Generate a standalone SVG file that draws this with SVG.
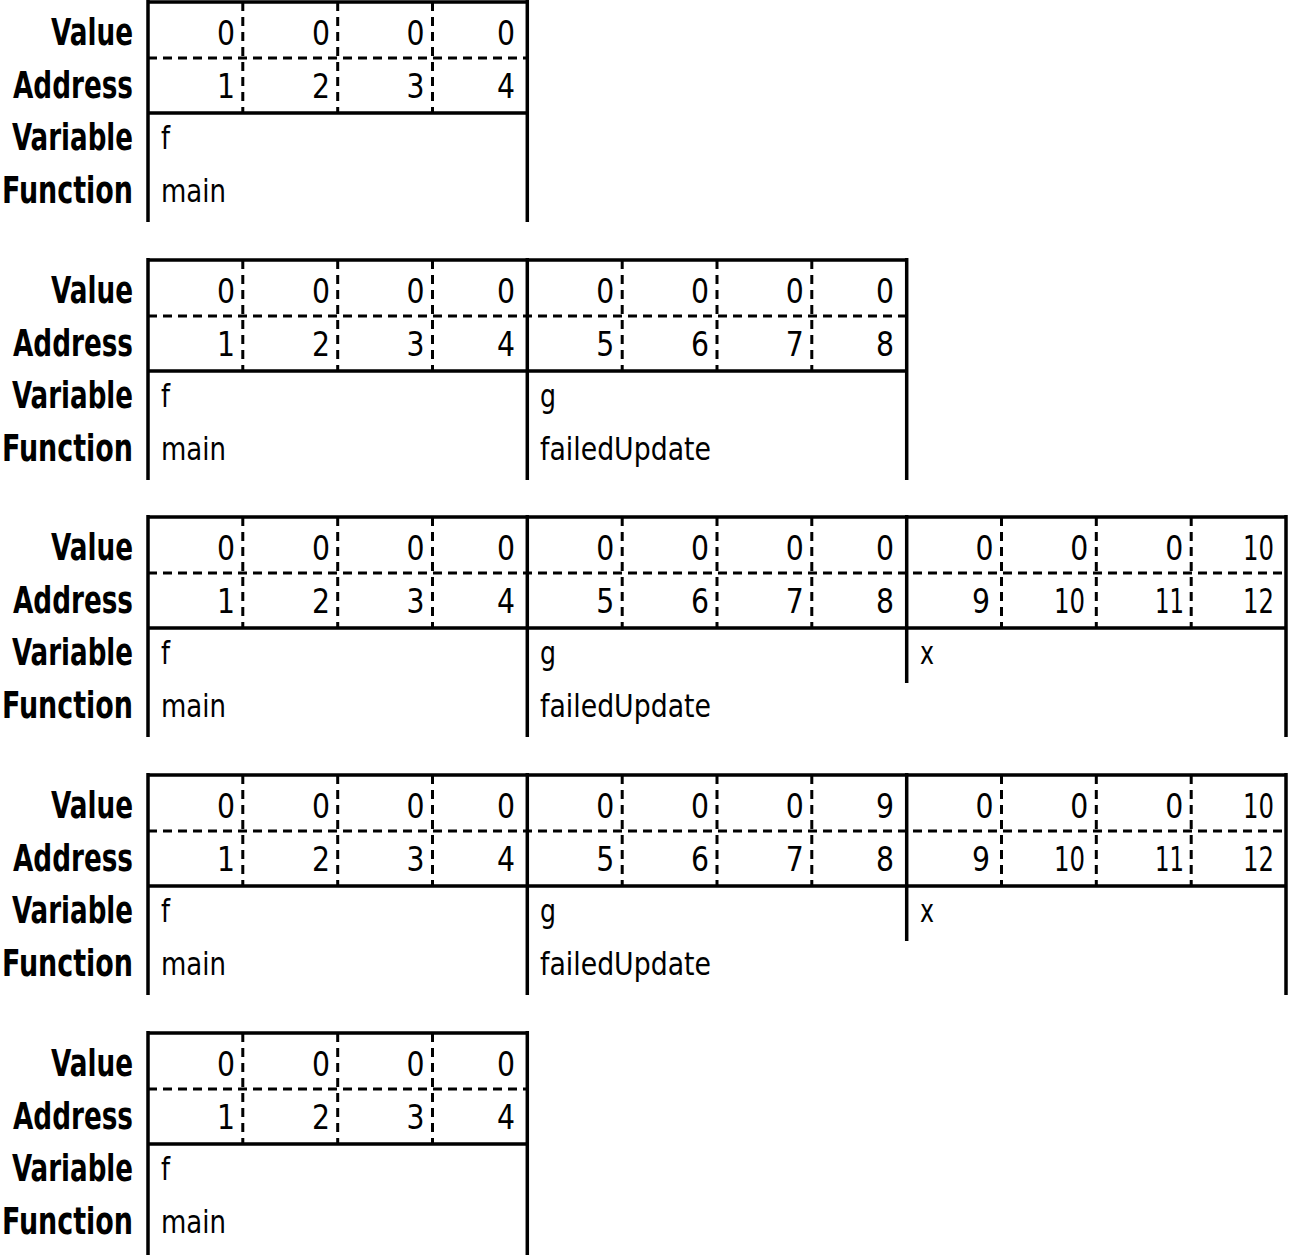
<svg xmlns="http://www.w3.org/2000/svg" width="1289" height="1255" viewBox="0 0 1289 1255">
<style>
.ln{stroke:#000;stroke-width:3.5;fill:none}
.ds{stroke:#000;stroke-width:3;fill:none;stroke-dasharray:9 6}
.lb{font-family:"Liberation Sans Narrow","DejaVu Sans Condensed","Liberation Sans",sans-serif;font-stretch:condensed;font-weight:bold;font-size:38px;text-anchor:end;fill:#000}
.n{font-family:"Liberation Sans Narrow","DejaVu Sans Condensed","Liberation Sans",sans-serif;font-stretch:condensed;font-size:33px;text-anchor:end;fill:#000}
.t{font-family:"Liberation Sans Narrow","DejaVu Sans Condensed","Liberation Sans",sans-serif;font-stretch:condensed;font-size:32px;fill:#000}
</style>
<defs>
<g id="labels">
<text class="lb" x="133" y="43" textLength="82" lengthAdjust="spacingAndGlyphs">Value</text>
<text class="lb" x="133" y="96" textLength="120" lengthAdjust="spacingAndGlyphs">Address</text>
<text class="lb" x="133" y="148" textLength="121" lengthAdjust="spacingAndGlyphs">Variable</text>
<text class="lb" x="133" y="201" textLength="131" lengthAdjust="spacingAndGlyphs">Function</text>
</g>
</defs>

<!-- Block 1 -->
<g id="block1" transform="translate(0,2)">
<use href="#labels"/>
<g id="b1-lines">
<path class="ln" d="M146.3 0H529M148 111H529M148 -2V220M527.3 -2V220"/>
<path class="ds" d="M148 56H527.3M242.8 0V111M337.7 0V111M432.5 0V111"/>
</g>
<g id="b1-cells">
<text class="n" x="235" y="43" textLength="18" lengthAdjust="spacingAndGlyphs">0</text>
<text class="n" x="330" y="43" textLength="18" lengthAdjust="spacingAndGlyphs">0</text>
<text class="n" x="424.5" y="43" textLength="18" lengthAdjust="spacingAndGlyphs">0</text>
<text class="n" x="515" y="43" textLength="18" lengthAdjust="spacingAndGlyphs">0</text>
<text class="n" x="235" y="96" textLength="18" lengthAdjust="spacingAndGlyphs">1</text>
<text class="n" x="330" y="96" textLength="18" lengthAdjust="spacingAndGlyphs">2</text>
<text class="n" x="424.5" y="96" textLength="18" lengthAdjust="spacingAndGlyphs">3</text>
<text class="n" x="515" y="96" textLength="18" lengthAdjust="spacingAndGlyphs">4</text>
<text class="t" x="161" y="147" textLength="9" lengthAdjust="spacingAndGlyphs">f</text>
<text class="t" x="161" y="200" textLength="65" lengthAdjust="spacingAndGlyphs">main</text>
</g>
</g>

<!-- Block 2 -->
<g id="block2" transform="translate(0,260)">
<use href="#labels"/>
<g id="b2-lines">
<path class="ln" d="M146.3 0H908.4M148 111H908.4M148 -2V220M527.3 -2V220M906.7 -2V220"/>
<path class="ds" d="M148 56H906.7M242.8 0V111M337.7 0V111M432.5 0V111M622.2 0V111M717 0V111M811.8 0V111"/>
</g>
<g id="b2-cells">
<text class="n" x="235" y="43" textLength="18" lengthAdjust="spacingAndGlyphs">0</text>
<text class="n" x="330" y="43" textLength="18" lengthAdjust="spacingAndGlyphs">0</text>
<text class="n" x="424.5" y="43" textLength="18" lengthAdjust="spacingAndGlyphs">0</text>
<text class="n" x="515" y="43" textLength="18" lengthAdjust="spacingAndGlyphs">0</text>
<text class="n" x="614.2" y="43" textLength="18" lengthAdjust="spacingAndGlyphs">0</text>
<text class="n" x="709" y="43" textLength="18" lengthAdjust="spacingAndGlyphs">0</text>
<text class="n" x="803.8" y="43" textLength="18" lengthAdjust="spacingAndGlyphs">0</text>
<text class="n" x="894" y="43" textLength="18" lengthAdjust="spacingAndGlyphs">0</text>
<text class="n" x="235" y="96" textLength="18" lengthAdjust="spacingAndGlyphs">1</text>
<text class="n" x="330" y="96" textLength="18" lengthAdjust="spacingAndGlyphs">2</text>
<text class="n" x="424.5" y="96" textLength="18" lengthAdjust="spacingAndGlyphs">3</text>
<text class="n" x="515" y="96" textLength="18" lengthAdjust="spacingAndGlyphs">4</text>
<text class="n" x="614.2" y="96" textLength="18" lengthAdjust="spacingAndGlyphs">5</text>
<text class="n" x="709" y="96" textLength="18" lengthAdjust="spacingAndGlyphs">6</text>
<text class="n" x="803.8" y="96" textLength="18" lengthAdjust="spacingAndGlyphs">7</text>
<text class="n" x="894" y="96" textLength="18" lengthAdjust="spacingAndGlyphs">8</text>
<text class="t" x="161" y="147" textLength="9" lengthAdjust="spacingAndGlyphs">f</text>
<text class="t" x="161" y="200" textLength="65" lengthAdjust="spacingAndGlyphs">main</text>
<text class="t" x="540" y="147" textLength="16" lengthAdjust="spacingAndGlyphs">g</text>
<text class="t" x="540" y="200" textLength="171" lengthAdjust="spacingAndGlyphs">failedUpdate</text>
</g>
</g>

<!-- Block 3 -->
<g id="block3" transform="translate(0,517)">
<use href="#labels"/>
<g id="b3-lines">
<path class="ln" d="M146.3 0H1287.7M148 111H1287.7M148 -2V220M527.3 -2V220M906.7 -2V166M1286 -2V220"/>
<path class="ds" d="M148 56H1286M242.8 0V111M337.7 0V111M432.5 0V111M622.2 0V111M717 0V111M811.8 0V111M1001.5 0V111M1096.3 0V111M1191.2 0V111"/>
</g>
<g id="b3-cells">
<text class="n" x="235" y="43" textLength="18" lengthAdjust="spacingAndGlyphs">0</text>
<text class="n" x="330" y="43" textLength="18" lengthAdjust="spacingAndGlyphs">0</text>
<text class="n" x="424.5" y="43" textLength="18" lengthAdjust="spacingAndGlyphs">0</text>
<text class="n" x="515" y="43" textLength="18" lengthAdjust="spacingAndGlyphs">0</text>
<text class="n" x="614.2" y="43" textLength="18" lengthAdjust="spacingAndGlyphs">0</text>
<text class="n" x="709" y="43" textLength="18" lengthAdjust="spacingAndGlyphs">0</text>
<text class="n" x="803.8" y="43" textLength="18" lengthAdjust="spacingAndGlyphs">0</text>
<text class="n" x="894" y="43" textLength="18" lengthAdjust="spacingAndGlyphs">0</text>
<text class="n" x="993.5" y="43" textLength="18" lengthAdjust="spacingAndGlyphs">0</text>
<text class="n" x="1088.3" y="43" textLength="18" lengthAdjust="spacingAndGlyphs">0</text>
<text class="n" x="1183.2" y="43" textLength="18" lengthAdjust="spacingAndGlyphs">0</text>
<text class="n" x="1274" y="43" textLength="31" lengthAdjust="spacingAndGlyphs">10</text>
<text class="n" x="235" y="96" textLength="18" lengthAdjust="spacingAndGlyphs">1</text>
<text class="n" x="330" y="96" textLength="18" lengthAdjust="spacingAndGlyphs">2</text>
<text class="n" x="424.5" y="96" textLength="18" lengthAdjust="spacingAndGlyphs">3</text>
<text class="n" x="515" y="96" textLength="18" lengthAdjust="spacingAndGlyphs">4</text>
<text class="n" x="614.2" y="96" textLength="18" lengthAdjust="spacingAndGlyphs">5</text>
<text class="n" x="709" y="96" textLength="18" lengthAdjust="spacingAndGlyphs">6</text>
<text class="n" x="803.8" y="96" textLength="18" lengthAdjust="spacingAndGlyphs">7</text>
<text class="n" x="894" y="96" textLength="18" lengthAdjust="spacingAndGlyphs">8</text>
<text class="n" x="990" y="96" textLength="18" lengthAdjust="spacingAndGlyphs">9</text>
<text class="n" x="1085" y="96" textLength="31" lengthAdjust="spacingAndGlyphs">10</text>
<text class="n" x="1184" y="96" textLength="29" lengthAdjust="spacingAndGlyphs">11</text>
<text class="n" x="1274" y="96" textLength="31" lengthAdjust="spacingAndGlyphs">12</text>
<text class="t" x="161" y="147" textLength="9" lengthAdjust="spacingAndGlyphs">f</text>
<text class="t" x="161" y="200" textLength="65" lengthAdjust="spacingAndGlyphs">main</text>
<text class="t" x="540" y="147" textLength="16" lengthAdjust="spacingAndGlyphs">g</text>
<text class="t" x="540" y="200" textLength="171" lengthAdjust="spacingAndGlyphs">failedUpdate</text>
<text class="t" x="920" y="147" textLength="14" lengthAdjust="spacingAndGlyphs">x</text>
</g>
</g>

<!-- Block 4 -->
<g id="block4" transform="translate(0,775)">
<use href="#labels"/>
<g id="b4-lines">
<path class="ln" d="M146.3 0H1287.7M148 111H1287.7M148 -2V220M527.3 -2V220M906.7 -2V166M1286 -2V220"/>
<path class="ds" d="M148 56H1286M242.8 0V111M337.7 0V111M432.5 0V111M622.2 0V111M717 0V111M811.8 0V111M1001.5 0V111M1096.3 0V111M1191.2 0V111"/>
</g>
<g id="b4-cells">
<text class="n" x="235" y="43" textLength="18" lengthAdjust="spacingAndGlyphs">0</text>
<text class="n" x="330" y="43" textLength="18" lengthAdjust="spacingAndGlyphs">0</text>
<text class="n" x="424.5" y="43" textLength="18" lengthAdjust="spacingAndGlyphs">0</text>
<text class="n" x="515" y="43" textLength="18" lengthAdjust="spacingAndGlyphs">0</text>
<text class="n" x="614.2" y="43" textLength="18" lengthAdjust="spacingAndGlyphs">0</text>
<text class="n" x="709" y="43" textLength="18" lengthAdjust="spacingAndGlyphs">0</text>
<text class="n" x="803.8" y="43" textLength="18" lengthAdjust="spacingAndGlyphs">0</text>
<text class="n" x="894" y="43" textLength="18" lengthAdjust="spacingAndGlyphs">9</text>
<text class="n" x="993.5" y="43" textLength="18" lengthAdjust="spacingAndGlyphs">0</text>
<text class="n" x="1088.3" y="43" textLength="18" lengthAdjust="spacingAndGlyphs">0</text>
<text class="n" x="1183.2" y="43" textLength="18" lengthAdjust="spacingAndGlyphs">0</text>
<text class="n" x="1274" y="43" textLength="31" lengthAdjust="spacingAndGlyphs">10</text>
<text class="n" x="235" y="96" textLength="18" lengthAdjust="spacingAndGlyphs">1</text>
<text class="n" x="330" y="96" textLength="18" lengthAdjust="spacingAndGlyphs">2</text>
<text class="n" x="424.5" y="96" textLength="18" lengthAdjust="spacingAndGlyphs">3</text>
<text class="n" x="515" y="96" textLength="18" lengthAdjust="spacingAndGlyphs">4</text>
<text class="n" x="614.2" y="96" textLength="18" lengthAdjust="spacingAndGlyphs">5</text>
<text class="n" x="709" y="96" textLength="18" lengthAdjust="spacingAndGlyphs">6</text>
<text class="n" x="803.8" y="96" textLength="18" lengthAdjust="spacingAndGlyphs">7</text>
<text class="n" x="894" y="96" textLength="18" lengthAdjust="spacingAndGlyphs">8</text>
<text class="n" x="990" y="96" textLength="18" lengthAdjust="spacingAndGlyphs">9</text>
<text class="n" x="1085" y="96" textLength="31" lengthAdjust="spacingAndGlyphs">10</text>
<text class="n" x="1184" y="96" textLength="29" lengthAdjust="spacingAndGlyphs">11</text>
<text class="n" x="1274" y="96" textLength="31" lengthAdjust="spacingAndGlyphs">12</text>
<text class="t" x="161" y="147" textLength="9" lengthAdjust="spacingAndGlyphs">f</text>
<text class="t" x="161" y="200" textLength="65" lengthAdjust="spacingAndGlyphs">main</text>
<text class="t" x="540" y="147" textLength="16" lengthAdjust="spacingAndGlyphs">g</text>
<text class="t" x="540" y="200" textLength="171" lengthAdjust="spacingAndGlyphs">failedUpdate</text>
<text class="t" x="920" y="147" textLength="14" lengthAdjust="spacingAndGlyphs">x</text>
</g>
</g>

<!-- Block 5 -->
<g id="block5" transform="translate(0,1033)">
<use href="#labels"/>
<g id="b5-lines">
<path class="ln" d="M146.3 0H529M148 111H529M148 -2V224M527.3 -2V224"/>
<path class="ds" d="M148 56H527.3M242.8 0V111M337.7 0V111M432.5 0V111"/>
</g>
<g id="b5-cells">
<text class="n" x="235" y="43" textLength="18" lengthAdjust="spacingAndGlyphs">0</text>
<text class="n" x="330" y="43" textLength="18" lengthAdjust="spacingAndGlyphs">0</text>
<text class="n" x="424.5" y="43" textLength="18" lengthAdjust="spacingAndGlyphs">0</text>
<text class="n" x="515" y="43" textLength="18" lengthAdjust="spacingAndGlyphs">0</text>
<text class="n" x="235" y="96" textLength="18" lengthAdjust="spacingAndGlyphs">1</text>
<text class="n" x="330" y="96" textLength="18" lengthAdjust="spacingAndGlyphs">2</text>
<text class="n" x="424.5" y="96" textLength="18" lengthAdjust="spacingAndGlyphs">3</text>
<text class="n" x="515" y="96" textLength="18" lengthAdjust="spacingAndGlyphs">4</text>
<text class="t" x="161" y="147" textLength="9" lengthAdjust="spacingAndGlyphs">f</text>
<text class="t" x="161" y="200" textLength="65" lengthAdjust="spacingAndGlyphs">main</text>
</g>
</g>
</svg>
